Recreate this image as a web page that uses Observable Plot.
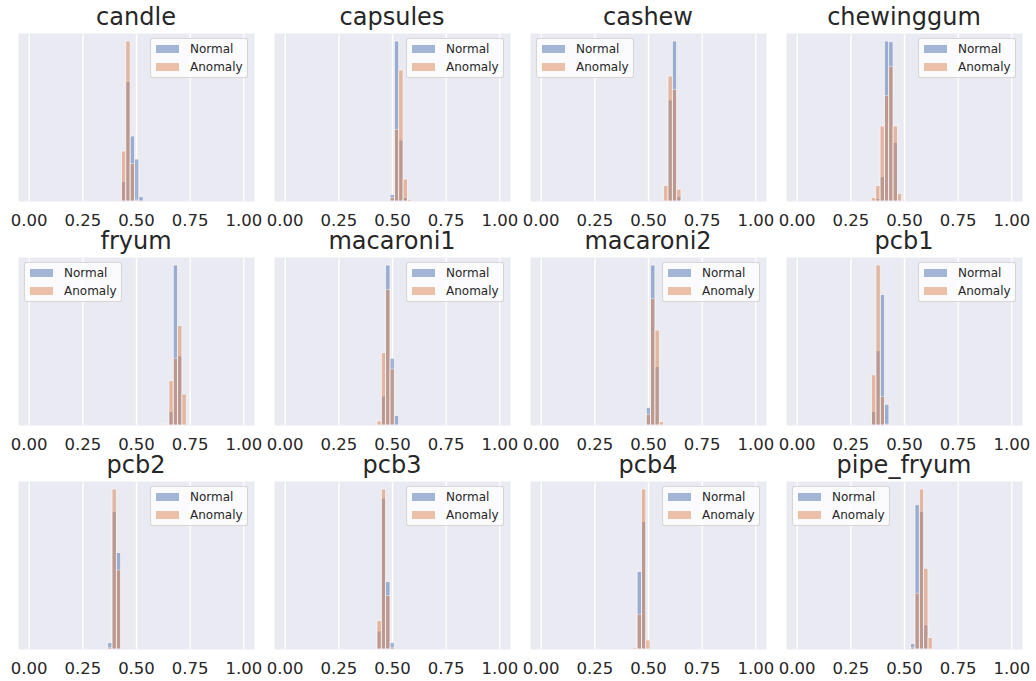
<!DOCTYPE html>
<html><head><meta charset="utf-8">
<script src="https://cdn.jsdelivr.net/npm/d3@7"></script>
<script src="https://cdn.jsdelivr.net/npm/@observablehq/plot@0.6"></script>
<style>
body{margin:0;background:#fff;}
#chart{position:relative;width:1036px;height:681px;font-family:"DejaVu Sans",sans-serif;color:#262626;overflow:hidden;}
.ttl{position:absolute;width:236px;text-align:center;font-size:24px;line-height:19px;height:19px;white-space:nowrap;}
.leg{position:absolute;width:96px;height:38px;border:1px solid rgba(204,204,204,0.8);border-radius:3px;background:rgba(255,255,255,0.8);font-size:12px;}
.leg .row{position:absolute;left:5px;height:18px;display:flex;align-items:center;white-space:nowrap;}
.leg .sw{width:23px;height:8px;margin-right:11px;box-sizing:border-box;}
.panel{position:absolute;}
</style></head>
<body>
<div id="chart"></div>
<script>
// ---- data ----
const panelNames = ["candle","capsules","cashew","chewinggum","fryum","macaroni1","macaroni2","pcb1","pcb2","pcb3","pcb4","pipe_fryum"];
const binStarts = [0.412,0.491,0.573,0.348,0.613,0.430,0.492,0.349,0.368,0.430,0.429,0.531];
const binWidth = 0.0202;
const normalCounts = [
  [0,58,358,195,126,13],
  [20,480,183,10,0],
  [0,303,480,13],
  [0,8,73,480,478,176,0],
  [0,0,40,479,207,0],
  [0,87,479,200,28],
  [53,479,175,0],
  [40,222,391,62],
  [19,412,289],
  [54,452,202,19],
  [0,232,382,0],
  [16,432,412,72,0]
];
const anomalyCounts = [
  [3,150,480,113,3,0],
  [10,215,393,66,5],
  [46,375,335,36],
  [10,46,225,316,403,225,23],
  [3,3,133,200,298,93],
  [12,217,405,168,0],
  [32,378,284,10],
  [150,479,85,3],
  [5,479,237],
  [85,479,160,5],
  [5,104,479,27],
  [5,167,479,242,34]
];
const legendSide = ["right","right","left","right","left","right","right","right","right","right","right","left"];
const seriesNames = ["Normal","Anomaly"];
const seriesColors = ["#4C72B0","#DD8452"];
const xTicks = [0,0.25,0.5,0.75,1.0];

// ---- layout ----
const colLefts = [18,274,530,786];
const rowTops = [33,257,481];
const pw = 236, ph = 168, mH = 16, mB = 34;

const chart = document.getElementById("chart");

panelNames.forEach((name, k) => {
  const left = colLefts[k % 4], top = rowTops[Math.floor(k / 4)];
  const rows = [];
  [normalCounts[k], anomalyCounts[k]].forEach((counts, s) => {
    counts.forEach((c, i) => {
      if (c > 0) rows.push({x1: binStarts[k] + i * binWidth, x2: binStarts[k] + (i + 1) * binWidth, count: c, series: seriesNames[s]});
    });
  });
  const ymax = d3.max(rows, d => d.count) * 1.05;
  const svg = Plot.plot({
    width: pw + 2 * mH,
    height: ph + mB,
    marginLeft: mH, marginRight: mH, marginTop: 0, marginBottom: mB,
    style: {fontFamily: "DejaVu Sans", color: "#262626", background: "transparent", overflow: "visible"},
    x: {domain: [-0.05, 1.05]},
    y: {domain: [0, ymax], axis: null},
    color: {domain: seriesNames, range: seriesColors},
    marks: [
      Plot.frame({fill: "#EAEAF2", stroke: null}),
      Plot.ruleX(xTicks, {stroke: "white", strokeWidth: 1.3}),
      Plot.rect(rows, {x1: "x1", x2: "x2", y1: () => 0, y2: "count", fill: "series", stroke: "white", strokeWidth: 0.8, opacity: 0.5, clip: true}),
      Plot.axisX({ticks: xTicks, tickFormat: d3.format(".2f"), tickSize: 0, tickPadding: 13, fontSize: 16.5, fill: "#262626"})
    ]
  });
  svg.classList.add("panel");
  svg.style.left = (left - mH) + "px";
  svg.style.top = top + "px";
  chart.appendChild(svg);

  const t = document.createElement("div");
  t.className = "ttl";
  t.textContent = name;
  t.style.left = left + "px";
  t.style.top = (top - 24.8) + "px";
  chart.appendChild(t);

  const lg = document.createElement("div");
  lg.className = "leg";
  lg.style.top = (top + 5) + "px";
  lg.style.left = (legendSide[k] === "right" ? left + pw - 6 - 98 : left + 6) + "px";
  seriesNames.forEach((sn, s) => {
    const r = document.createElement("div");
    r.className = "row";
    r.style.top = (1 + s * 18) + "px";
    const sw = document.createElement("span");
    sw.className = "sw";
    sw.style.background = seriesColors[s];
    sw.style.opacity = 0.5;
    const tx = document.createElement("span");
    tx.textContent = sn;
    r.appendChild(sw); r.appendChild(tx);
    lg.appendChild(r);
  });
  chart.appendChild(lg);
});
</script>
</body></html>
